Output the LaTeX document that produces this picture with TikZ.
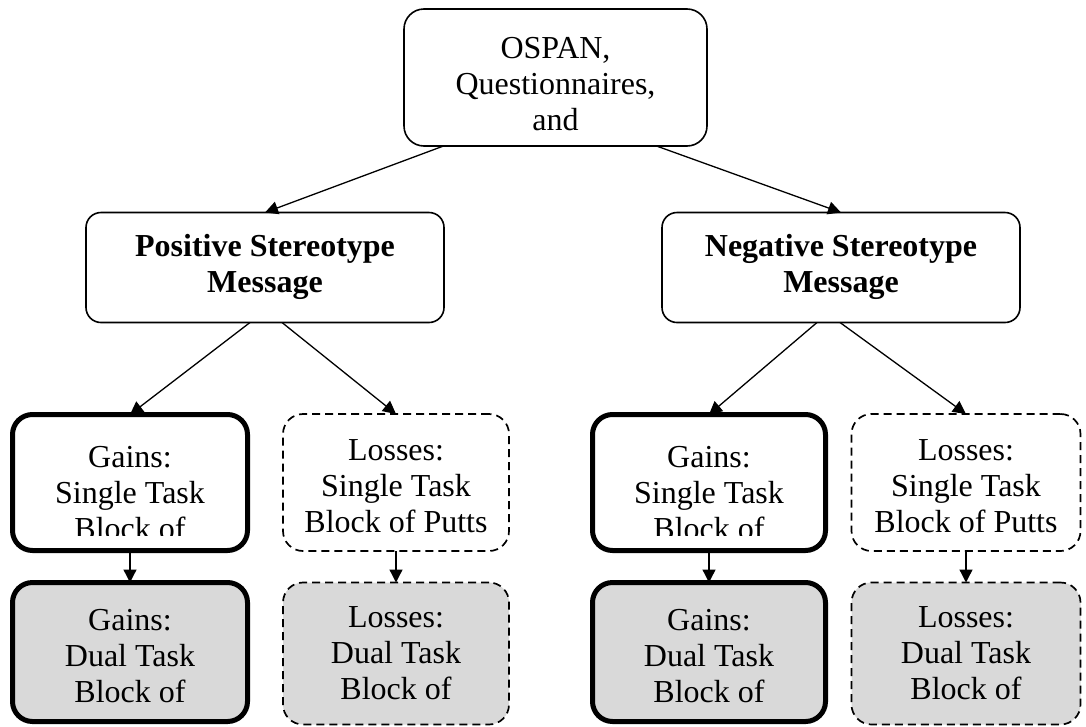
\documentclass[tikz,border=0pt]{standalone}
\usepackage{fontspec}
\setmainfont{Liberation Serif}
\usetikzlibrary{arrows.meta}
\definecolor{boxgray}{HTML}{D9D9D9}
\tikzset{
  every node/.style={inner sep=0pt, outer sep=0pt},
  thinbox/.style={draw=black, line width=1.6pt, rounded corners=#1},
  thickbox/.style={draw=black, line width=5pt, rounded corners=20pt},
  dashbox/.style={draw=black, line width=1.7pt, dash pattern=on 8pt off 5pt, rounded corners=20pt},
  shaded/.style={fill=boxgray},
  txt/.style={align=center, anchor=north, font=\fontsize{32}{36}\selectfont},
  boldtxt/.style={txt, font=\fontsize{32}{36}\selectfont\bfseries},
  arr/.style={-{Triangle[length=13pt,width=13pt]}, line width=1.3pt},
}
\begin{document}
\begin{tikzpicture}[x=1pt,y=-1pt]
\useasboundingbox (0,0) rectangle (1086,726);
% boxes
\node[thinbox=20pt, minimum width=303pt, minimum height=137pt] (top) at (555.5,77.5) {};
\node[thinbox=15pt, minimum width=358pt, minimum height=110pt] (pos) at (265,267.5) {};
\node[thinbox=15pt, minimum width=358pt, minimum height=110pt] (neg) at (841,267.5) {};

\node[thickbox, minimum width=235pt, minimum height=136pt] (gL1) at (130,482.5) {};
\node[dashbox, minimum width=226pt, minimum height=137pt] (lL1) at (396,482.5) {};
\node[thickbox, shaded, minimum width=235pt, minimum height=139pt] (gL2) at (130,652) {};
\node[dashbox, shaded, minimum width=226pt, minimum height=142pt] (lL2) at (396,653.5) {};

\node[thickbox, minimum width=233pt, minimum height=136pt] (gR1) at (709,482.5) {};
\node[dashbox, minimum width=229pt, minimum height=137pt] (lR1) at (966,482.5) {};
\node[thickbox, shaded, minimum width=233pt, minimum height=139pt] (gR2) at (709,652) {};
\node[dashbox, shaded, minimum width=229pt, minimum height=142pt] (lR2) at (966,653.5) {};

% texts
\node[txt] (topt) at (555.5,58-25.2) {\strut OSPAN,\\\strut Questionnaires,\\\strut and};
\node[boldtxt] (post) at (265,256-25.2) {\strut Positive Stereotype\\\strut Message};
\node[boldtxt] (negt) at (841,256-25.2) {\strut Negative Stereotype\\\strut Message};

\begin{scope}
\clip (0,0) rectangle (1086,535);
\node[txt] (gL1t) at (130,467-25.2) {\strut Gains:\\\strut Single Task\\\strut Block of};
\node[txt] (gR1t) at (709,467-25.2) {\strut Gains:\\\strut Single Task\\\strut Block of};
\end{scope}
\node[txt] (lL1t) at (396,460-25.2) {\strut Losses:\\\strut Single Task\\\strut Block of Putts};
\node[txt] (lR1t) at (966,460-25.2) {\strut Losses:\\\strut Single Task\\\strut Block of Putts};
\node[txt] (gL2t) at (130,630-25.2) {\strut Gains:\\\strut Dual Task\\\strut Block of};
\node[txt] (gR2t) at (709,630-25.2) {\strut Gains:\\\strut Dual Task\\\strut Block of};
\node[txt] (lL2t) at (396,627-25.2) {\strut Losses:\\\strut Dual Task\\\strut Block of};
\node[txt] (lR2t) at (966,627-25.2) {\strut Losses:\\\strut Dual Task\\\strut Block of};

% connectors
\draw[arr] ([xshift=-112pt]top.south) -- (pos.north);
\draw[arr] ([xshift=101pt]top.south) -- (neg.north);
\draw[arr] ([xshift=-15pt]pos.south) -- (gL1.north);
\draw[arr] ([xshift=17pt]pos.south) -- (lL1.north);
\draw[arr] ([xshift=-24pt]neg.south) -- (gR1.north);
\draw[arr] ([xshift=-1pt]neg.south) -- (lR1.north);
\draw[arr] (gL1.south) -- (gL2.north);
\draw[arr] (lL1.south) -- (lL2.north);
\draw[arr] (gR1.south) -- (gR2.north);
\draw[arr] (lR1.south) -- (lR2.north);
\end{tikzpicture}
\end{document}
